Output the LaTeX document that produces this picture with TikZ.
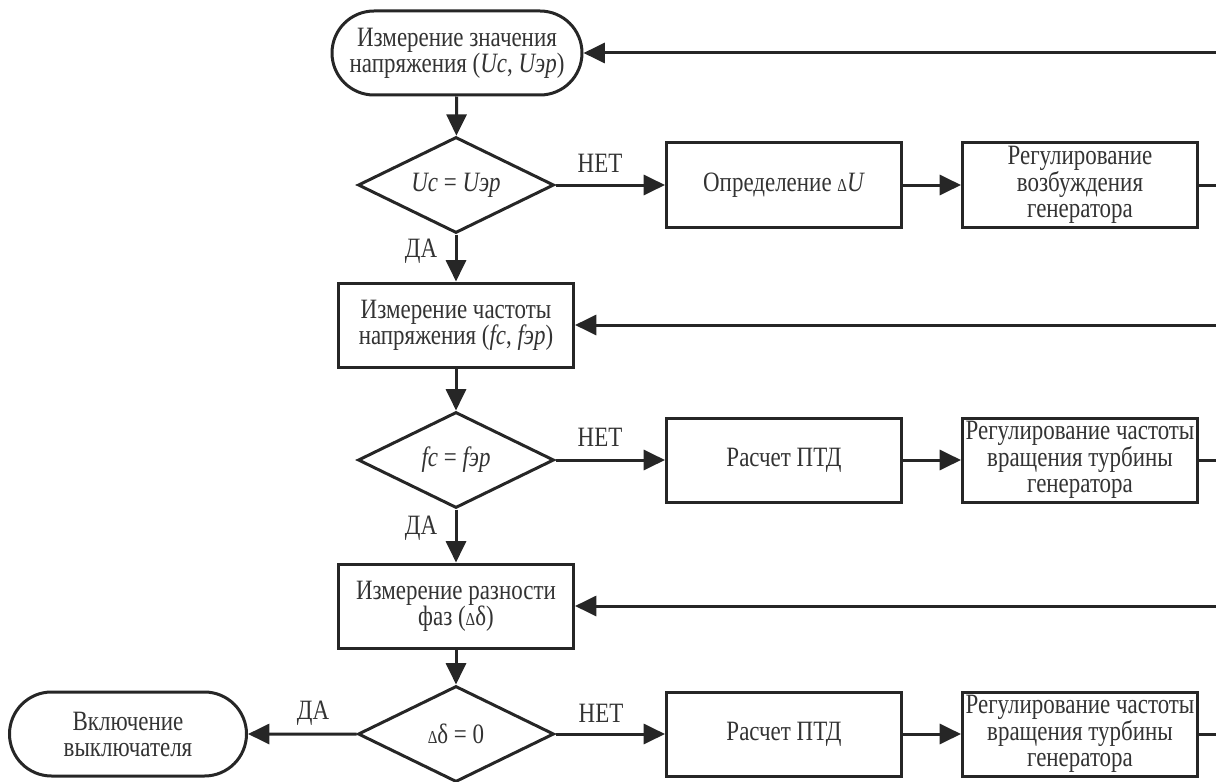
\documentclass[tikz,border=0pt]{standalone}
\usepackage{fontspec}
\setmainfont{Liberation Serif}[FakeStretch=0.82]
\usetikzlibrary{shapes.geometric,shapes.misc,arrows.meta}
\definecolor{ln}{HTML}{262626}
\definecolor{tx}{HTML}{333333}
\newcommand\dsmall{\scalebox{0.65}{Δ}}
\begin{document}
\begin{tikzpicture}[x=0.75pt,y=-0.75pt,
  every node/.style={font=\fontsize{21}{19.5}\selectfont, text=tx},
  blk/.style={draw=ln, line width=2.25pt, rectangle, minimum width=176.25pt,
    minimum height=63pt, inner sep=0pt, align=center},
  term/.style={draw=ln, line width=2.25pt, rounded rectangle, minimum height=63pt,
    inner sep=0pt, align=center},
  dec/.style={draw=ln, line width=2.25pt, diamond, minimum width=147pt,
    minimum height=72pt, inner sep=0pt, aspect=2},
  arr/.style={draw=ln, line width=2.25pt, -{Triangle[length=16pt,width=15pt]}},
  lab/.style={inner sep=0pt}
]
\useasboundingbox (0,0) rectangle (1216,781);
\clip (0,0) rectangle (1216,781);

\node[term, minimum width=187.5pt] (start) at (457,53)
  {Измерение значения\\напряжения (\textit{Uc}, \textit{Uэр})};
\node[dec] (d1) at (456,185) {\textit{Uc} = \textit{Uэр}};
\node[blk] (b1) at (784,185) {Определение \dsmall\textit{U}};
\node[blk] (r1) at (1080,185) {Регулирование\\возбуждения\\генератора};

\node[blk] (b3) at (456,325) {Измерение частоты\\напряжения (\textit{fc}, \textit{fэр})};
\node[dec] (d2) at (456,460) {\textit{fc} = \textit{fэр}};
\node[blk] (b4) at (784,460) {Расчет ПТД};
\node[blk] (r2) at (1080,460) {Регулирование частоты\\вращения турбины\\генератора};

\node[blk] (b5) at (456,606) {Измерение разности\\фаз (\dsmall δ)};
\node[dec] (d3) at (456,734) {\dsmall δ = 0};
\node[blk] (b6) at (784,734) {Расчет ПТД};
\node[blk] (r3) at (1080,734) {Регулирование частоты\\вращения турбины\\генератора};
\node[term, minimum width=177.75pt] (t2) at (128,734) {Включение\\выключателя};

\node[lab] (no1) at (600,163) {НЕТ};
\node[lab] (yes1) at (421,251) {ДА};
\node[lab] (no2) at (600,437) {НЕТ};
\node[lab] (yes2) at (421,528) {ДА};
\node[lab] (no3) at (601,713) {НЕТ};
\node[lab] (yes3) at (313,713) {ДА};

\draw[arr] (start) -- (d1);
\draw[arr] (d1) -- (b1);
\draw[arr] (b1) -- (r1);
\draw[arr] (r1.east) -- ++(40,0) |- (start.east);
\draw[arr] (d1) -- (b3);

\draw[arr] (b3) -- (d2);
\draw[arr] (d2) -- (b4);
\draw[arr] (b4) -- (r2);
\draw[arr] (r2.east) -- ++(40,0) |- (b3.east);
\draw[arr] (d2) -- (b5);

\draw[arr] (b5) -- (d3);
\draw[arr] (d3) -- (b6);
\draw[arr] (b6) -- (r3);
\draw[arr] (r3.east) -- ++(40,0) |- (b5.east);
\draw[arr] (d3) -- (t2);
\end{tikzpicture}
\end{document}
